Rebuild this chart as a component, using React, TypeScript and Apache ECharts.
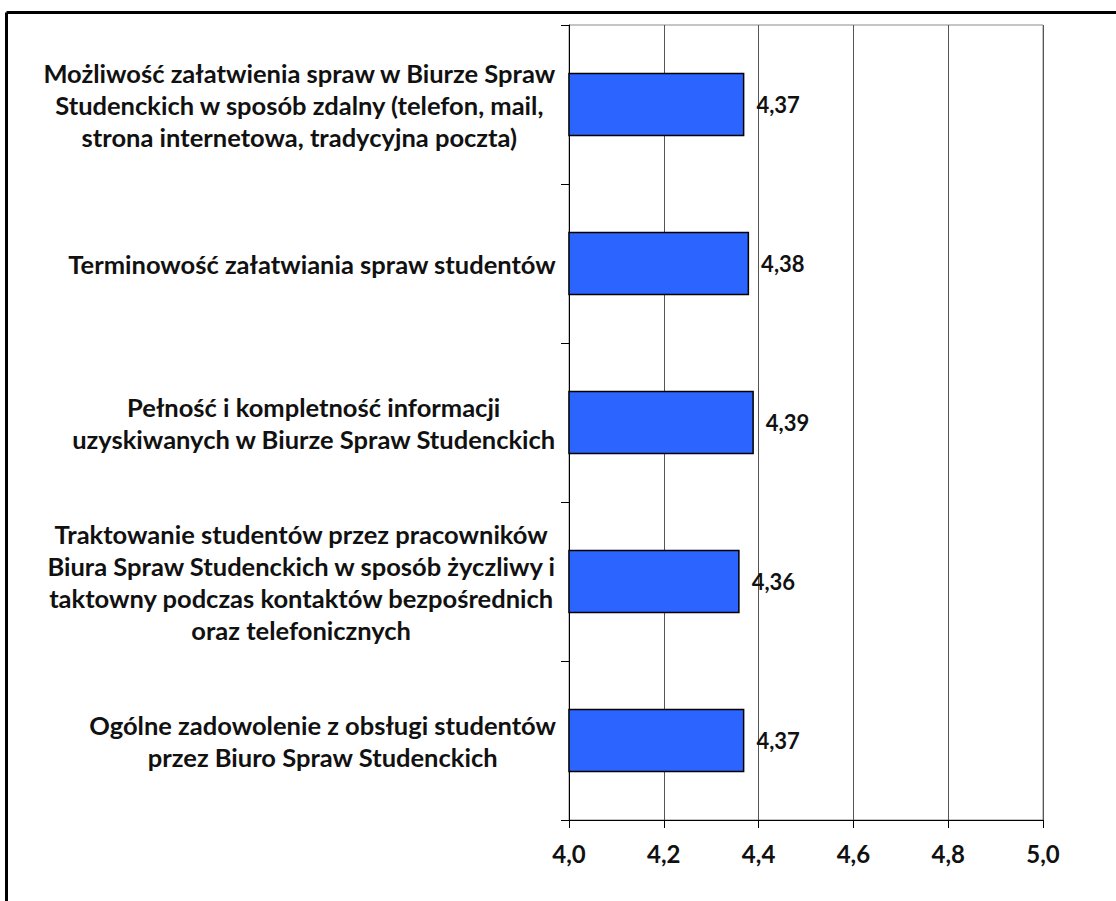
import React, { useEffect, useRef } from "react";
import * as echarts from "echarts";

const categories = [
  "Możliwość załatwienia spraw w Biurze Spraw\nStudenckich w sposób zdalny (telefon, mail,\nstrona internetowa, tradycyjna poczta)",
  "Terminowość załatwiania spraw studentów",
  "Pełność i kompletność informacji\nuzyskiwanych w Biurze Spraw Studenckich",
  "Traktowanie studentów przez pracowników\nBiura Spraw Studenckich w sposób życzliwy i\ntaktowny podczas kontaktów bezpośrednich\noraz telefonicznych",
  "Ogólne zadowolenie z obsługi studentów\nprzez Biuro Spraw Studenckich",
];
const values = [4.37, 4.38, 4.39, 4.36, 4.37];
const xMin = 4.0;
const xMax = 5.0;
const xStep = 0.2;

const FONT = "Lato, 'Open Sans', 'DejaVu Sans', sans-serif";

export default function App() {
  const ref = useRef<HTMLDivElement>(null);
  useEffect(() => {
    document.body.style.margin = "0";
    const chart = echarts.init(ref.current!, null, { renderer: "svg" });
    chart.setOption({
      animation: false,
      backgroundColor: "#ffffff",
      textStyle: { fontFamily: FONT },
      graphic: [
        { type: "line", shape: { x1: 6.5, y1: 12.5, x2: 1116, y2: 12.5 }, style: { stroke: "#000", lineWidth: 3 } },
        { type: "line", shape: { x1: 6.5, y1: 12.5, x2: 6.5, y2: 901 }, style: { stroke: "#000", lineWidth: 3 } },
      ],
      grid: {
        left: 569,
        right: 73,
        top: 25,
        bottom: 81,
        show: true,
        borderColor: "#8a8a8a",
        borderWidth: 1,
      },
      xAxis: {
        type: "value",
        min: xMin,
        max: xMax,
        interval: xStep,
        axisLine: { show: true, lineStyle: { color: "#000", width: 1 } },
        axisTick: { show: true, length: 8, lineStyle: { color: "#000" } },
        splitLine: { show: true, lineStyle: { color: "#555", width: 1 } },
        axisLabel: {
          margin: 21,
          fontSize: 24,
          fontWeight: "bold",
          color: "#111",
          fontFamily: FONT,
          formatter: (v: number) => v.toFixed(1).replace(".", ","),
        },
      },
      yAxis: {
        type: "category",
        inverse: true,
        data: categories,
        axisLine: { show: true, lineStyle: { color: "#000", width: 1 } },
        axisTick: { show: true, length: 8, lineStyle: { color: "#000" } },
        axisLabel: {
          margin: 13,
          align: "right",
          formatter: (v: string) =>
            v
              .split("\n")
              .map((l) => "{c|" + l + "}")
              .join("\n"),
          rich: {
            c: {
              align: "center",
              fontSize: 25.5,
              fontWeight: "bold",
              color: "#111",
              lineHeight: 32,
              fontFamily: FONT,
            },
          },
        },
      },
      series: [
        {
          type: "bar",
          data: values,
          barWidth: "40%",
          itemStyle: { color: "#2B64FF", borderColor: "#000", borderWidth: 1.5 },
          label: {
            show: true,
            position: "right",
            distance: 12,
            fontSize: 22,
            fontWeight: "bold",
            color: "#111",
            fontFamily: FONT,
            formatter: (p: any) => p.value.toFixed(2).replace(".", ","),
          },
        },
      ],
    });
    return () => chart.dispose();
  }, []);
  return (
    <div
      ref={ref}
      style={{ position: "absolute", left: 0, top: 0, width: 1116, height: 901 }}
    />
  );
}
